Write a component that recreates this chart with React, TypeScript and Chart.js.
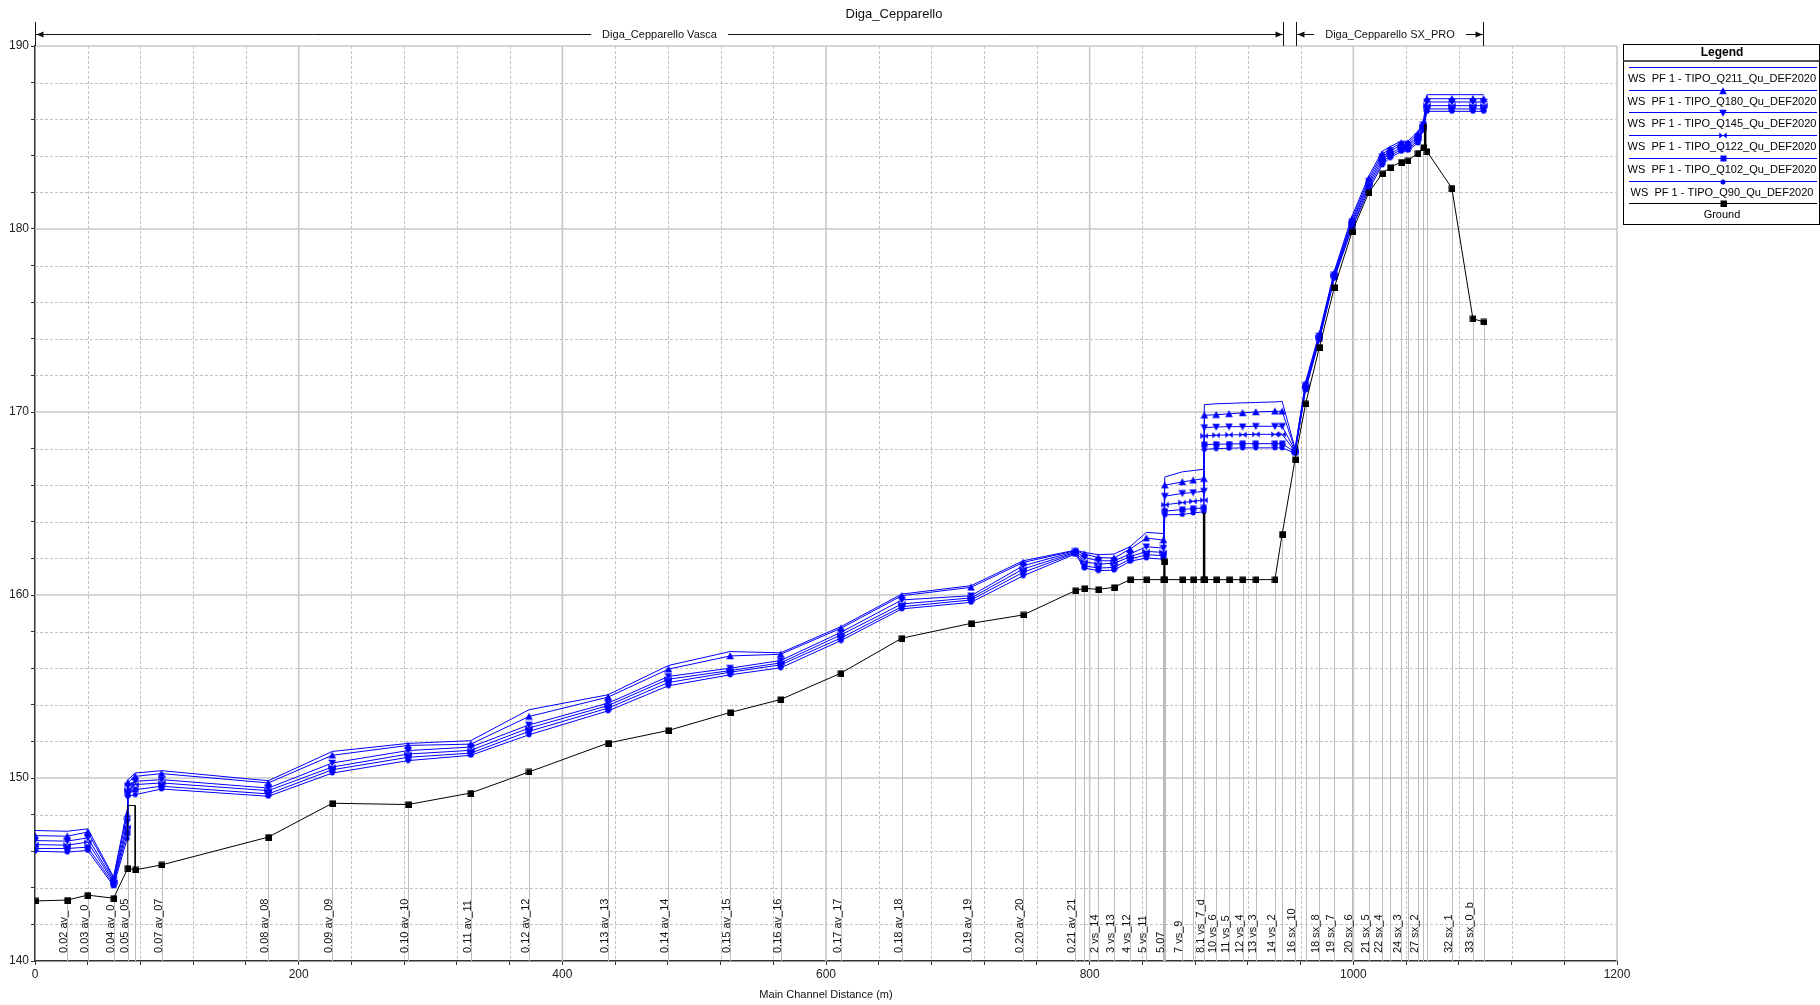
import React, { useEffect, useRef } from 'react';
import { Chart, registerables } from 'chart.js';

Chart.register(...registerables);

// ---- data (main channel distance in m, elevations in m) ----
const stations = [
  0, 24.5, 40, 59.6, 70.0, 70.4, 76, 96, 177, 225.5, 283, 330.5, 374.7, 434.7, 480.5, 527.3,
  565.6, 611.3, 657.5, 710, 749.6, 789.2, 796, 806.6, 818.5, 830.6, 843, 856.0, 856.4, 857.0,
  870.3, 878.5, 886.6, 887.0, 896, 905.7, 916, 926, 940.5, 946, 955.8, 963.8, 974.3, 985.6,
  999, 1011.8, 1021.9, 1028, 1036.3, 1041.4, 1049, 1053.2, 1055.8, 1074.7, 1090.7, 1098.8,
];

const stationLabels = [
  '', '0.02 av_', '0.03 av_0', '0.04 av_0', '', '0.05 av_05', '', '0.07 av_07', '0.08 av_08',
  '0.09 av_09', '0.10 av_10', '0.11 av_11', '0.12 av_12', '0.13 av_13', '0.14 av_14', '0.15 av_15',
  '0.16 av_16', '0.17 av_17', '0.18 av_18', '0.19 av_19', '0.20 av_20', '0.21 av_21', '',
  '2 vs_14', '3 vs_13', '4 vs_12', '5 vs_11', '', '5.07', '', '7 vs_9', '', '8.1 vs_7_d', '',
  '10 vs_6', '11 vs_5', '12 vs_4', '13 vs_3', '14 vs_2', '', '16 sx_10', '', '18 sx_8', '19 sx_7',
  '20 sx_6', '21 sx_5', '22 sx_4', '', '24 sx_3', '', '27 sx_2', '', '', '32 sx_1', '33 sx_0_b', '',
];

const ground = [
  143.28, 143.33, 143.6, 143.43, null, 145.07, 144.98, 145.25, 146.77, 148.62, 148.55, 149.18,
  150.33, 151.91, 152.6, 153.58, 154.29, 155.73, 157.64, 158.45, 158.91, 160.24, 160.36, 160.31,
  160.42, 160.84, 160.84, 160.84, 161.82, 160.84, 160.84, 160.84, 160.84, 160.84, 160.84, 160.84,
  160.84, 160.84, 160.84, 163.33, 167.4, 170.45, 173.55, 176.81, 179.84, 182.0, 183.02, 183.37,
  183.66, 183.73, 184.15, 184.46, 184.24, 182.24, 175.1, 174.92,
];

const wsQ211 = [
  147.13, 147.09, 147.22, 144.6, 148.3, 149.9, 150.27, 150.4, 149.85, 151.45, 151.89, 152.04,
  153.73, 154.55, 156.15, 156.91, 156.84, 158.27, 160.05, 160.51, 161.87, 162.45, 162.33, 162.2,
  162.24, 162.64, 163.42, 163.36, null, 166.45, 166.73, 166.8, 166.87, 170.4, 170.45, 170.47,
  170.5, 170.52, 170.55, 170.58, 168.0, 171.65, 174.35, 177.7, 180.7, 182.9, 184.24, 184.5,
  184.8, 184.8, 185.33, 185.9, 187.34, 187.34, 187.34, 187.34,
];
const wsQ180 = [
  146.85, 146.82, 147.05, 144.5, 148.0, 149.75, 150.09, 150.24, 149.73, 151.24, 151.78, 151.85,
  153.36, 154.42, 155.95, 156.67, 156.76, 158.18, 159.96, 160.42, 161.78, 162.42, 162.24, 162.05,
  162.02, 162.51, 163.11, 163.0, null, 166.0, 166.18, 166.27, 166.36, 169.82, 169.85, 169.9,
  169.95, 170.0, 170.04, 170.04, 167.95, 171.55, 174.25, 177.6, 180.55, 182.75, 184.1, 184.38,
  184.7, 184.7, 185.2, 185.8, 187.12, 187.12, 187.12, 187.12,
];
const wsQ145 = [
  146.58, 146.55, 146.73, 144.4, 147.6, 149.55, 149.82, 149.91, 149.45, 150.82, 151.5, 151.69,
  152.9, 154.09, 155.55, 156.0, 156.42, 157.96, 159.73, 159.96, 161.6, 162.38, 162.05, 161.87,
  161.87, 162.24, 162.64, 162.56, null, 165.4, 165.55, 165.6, 165.67, 169.15, 169.18, 169.2,
  169.2, 169.22, 169.22, 169.22, 167.9, 171.45, 174.15, 177.5, 180.4, 182.6, 183.95, 184.25,
  184.6, 184.6, 185.05, 185.7, 186.94, 186.94, 186.94, 186.94,
];
const wsQ122 = [
  146.36, 146.33, 146.5, 144.3, 147.3, 149.35, 149.64, 149.73, 149.31, 150.6, 151.31, 151.51,
  152.73, 153.96, 155.4, 155.87, 156.29, 157.82, 159.51, 159.84, 161.42, 162.33, 161.82, 161.69,
  161.73, 162.09, 162.38, 162.33, null, 164.93, 165.05, 165.12, 165.18, 168.69, 168.73, 168.75,
  168.76, 168.78, 168.78, 168.78, 167.85, 171.38, 174.08, 177.45, 180.3, 182.45, 183.8, 184.12,
  184.45, 184.48, 184.95, 185.6, 186.74, 186.74, 186.74, 186.74,
];
const wsQ102 = [
  146.15, 146.15, 146.22, 144.2, 147.0, 149.15, 149.36, 149.55, 149.13, 150.45, 151.13, 151.36,
  152.55, 153.82, 155.22, 155.78, 156.18, 157.65, 159.36, 159.73, 161.24, 162.29, 161.6, 161.47,
  161.51, 161.96, 162.2, 162.15, null, 164.58, 164.67, 164.72, 164.76, 168.22, 168.24, 168.25,
  168.27, 168.27, 168.27, 168.27, 167.8, 171.3, 174.0, 177.38, 180.15, 182.3, 183.65, 184.0,
  184.35, 184.38, 184.82, 185.5, 186.56, 186.56, 186.56, 186.56,
];
const wsQ90 = [
  146.0, 145.95, 146.04, 144.1, 146.7, 149.0, 149.09, 149.4, 149.0, 150.27, 150.95, 151.24,
  152.36, 153.67, 155.04, 155.64, 156.02, 157.51, 159.24, 159.6, 161.05, 162.24, 161.47, 161.33,
  161.36, 161.84, 162.02, 161.96, null, 164.38, 164.4, 164.48, 164.55, 167.96, 168.0, 168.02,
  168.04, 168.04, 168.04, 168.04, 167.75, 171.2, 173.95, 177.3, 180.05, 182.15, 183.5, 183.9,
  184.24, 184.3, 184.7, 185.4, 186.43, 186.43, 186.43, 186.43,
];

const seriesNames = [
  'WS  PF 1 - TIPO_Q211_Qu_DEF2020',
  'WS  PF 1 - TIPO_Q180_Qu_DEF2020',
  'WS  PF 1 - TIPO_Q145_Qu_DEF2020',
  'WS  PF 1 - TIPO_Q122_Qu_DEF2020',
  'WS  PF 1 - TIPO_Q102_Qu_DEF2020',
  'WS  PF 1 - TIPO_Q90_Qu_DEF2020',
];
const groundName = 'Ground';

// inline structures (drawn as ground outlines)
const structureX = [[70.4, 70.4, 76, 76], [886.8, 886.8], [1054.5, 1054.5]];
const structureY = [[145.07, 148.5, 148.5, 144.98], [160.84, 164.5], [184.35, 185.75]];

const reachNames = ['Diga_Cepparello Vasca', 'Diga_Cepparello SX_PRO'];
const reachStart = [0, 956.6];
const reachEnd = [946.8, 1098.6];

const chartTitle = 'Diga_Cepparello';
const xTitle = 'Main Channel Distance (m)';
const legendTitle = 'Legend';

const FONT = '"Liberation Sans", Arial, sans-serif';
const BLUE = '#0000ff';

function makeMarkers() {
  const mk = (w: number, h: number, draw: (c: CanvasRenderingContext2D) => void) => {
    const c = document.createElement('canvas');
    c.width = w;
    c.height = h;
    const g = c.getContext('2d')!;
    draw(g);
    return c;
  };
  const triUp = mk(8, 8, (g) => {
    g.fillStyle = BLUE;
    g.beginPath();
    g.moveTo(4, 0.3);
    g.lineTo(7.8, 7.2);
    g.lineTo(0.2, 7.2);
    g.closePath();
    g.fill();
  });
  const triDown = mk(8, 8, (g) => {
    g.fillStyle = BLUE;
    g.beginPath();
    g.moveTo(0.2, 0.8);
    g.lineTo(7.8, 0.8);
    g.lineTo(4, 7.7);
    g.closePath();
    g.fill();
  });
  const bowtie = mk(8, 7, (g) => {
    g.fillStyle = BLUE;
    g.beginPath();
    g.moveTo(0.3, 0.5);
    g.lineTo(7.7, 6.5);
    g.lineTo(7.7, 0.5);
    g.lineTo(0.3, 6.5);
    g.closePath();
    g.fill();
  });
  const square = mk(7, 7, (g) => {
    g.fillStyle = BLUE;
    g.fillRect(0.5, 0.5, 6, 6);
  });
  const dot = mk(6, 6, (g) => {
    g.fillStyle = BLUE;
    g.beginPath();
    g.arc(3, 3, 2.5, 0, Math.PI * 2);
    g.fill();
  });
  const groundSq = mk(7, 7, (g) => {
    g.fillStyle = '#000';
    g.fillRect(0.5, 0.5, 6.5, 6.5);
  });
  return { triUp, triDown, bowtie, square, dot, groundSq };
}

export default function App() {
  const ref = useRef<HTMLCanvasElement | null>(null);

  useEffect(() => {
    if (!ref.current) return;
    const markers = makeMarkers();
    const wsSeries = [wsQ211, wsQ180, wsQ145, wsQ122, wsQ102, wsQ90];
    const wsMarker: (HTMLCanvasElement | null)[] = [
      null, markers.triUp, markers.triDown, markers.bowtie, markers.square, markers.dot,
    ];
    const pts = (ys: (number | null)[]) => stations.map((x, i) => ({ x, y: ys[i] }));

    const line = (ctx: CanvasRenderingContext2D, x0: number, y0: number, x1: number, y1: number) => {
      ctx.beginPath();
      ctx.moveTo(x0, y0);
      ctx.lineTo(x1, y1);
      ctx.stroke();
    };

    const hecPlugin = {
      id: 'hec',
      beforeDatasetsDraw(chart: any) {
        const { ctx, chartArea: a, scales } = chart;
        const xs = scales.x;
        const ys = scales.y;
        ctx.save();
        // minor grid
        ctx.lineWidth = 1;
        ctx.strokeStyle = '#c2c2c2';
        ctx.setLineDash([3, 2]);
        for (let v = 40; v < 1200; v += 40) {
          if (v % 200 === 0) continue;
          const px = Math.round(xs.getPixelForValue(v)) + 0.5;
          line(ctx, px, a.top, px, a.bottom);
        }
        for (let v = 142; v < 190; v += 2) {
          if (v % 10 === 0) continue;
          const py = Math.round(ys.getPixelForValue(v)) + 0.5;
          line(ctx, a.left, py, a.right, py);
        }
        ctx.setLineDash([]);
        // major grid
        ctx.strokeStyle = '#c8c8c8';
        ctx.lineWidth = 1.6;
        for (let v = 200; v <= 1200; v += 200) {
          const px = xs.getPixelForValue(v);
          line(ctx, px, a.top, px, a.bottom);
        }
        for (let v = 150; v <= 190; v += 10) {
          const py = ys.getPixelForValue(v);
          line(ctx, a.left, py, a.right, py);
        }
        // station lines (axis to ground)
        ctx.strokeStyle = '#bcbcbc';
        ctx.lineWidth = 1;
        stations.forEach((m, i) => {
          const g = ground[i];
          if (g == null || m === 0) return;
          const px = Math.round(xs.getPixelForValue(m)) + 0.5;
          line(ctx, px, ys.getPixelForValue(140), px, ys.getPixelForValue(g));
        });
        ctx.restore();
      },
      afterDraw(chart: any) {
        const { ctx, chartArea: a, scales } = chart;
        const xs = scales.x;
        ctx.save();
        // station labels
        ctx.fillStyle = '#111';
        ctx.font = `11px ${FONT}`;
        ctx.textAlign = 'left';
        ctx.textBaseline = 'alphabetic';
        stations.forEach((m, i) => {
          const lab = stationLabels[i];
          if (!lab) return;
          const px = Math.round(xs.getPixelForValue(m)) - 0.5;
          ctx.save();
          ctx.translate(px, a.bottom - 8);
          ctx.rotate(-Math.PI / 2);
          ctx.fillText(lab, 0, 0);
          ctx.restore();
        });

        // title
        ctx.fillStyle = '#111';
        ctx.font = `13px ${FONT}`;
        ctx.textAlign = 'center';
        ctx.textBaseline = 'middle';
        ctx.fillText(chartTitle, 894, 14);

        // x axis title
        ctx.font = `11px ${FONT}`;
        ctx.fillText(xTitle, (a.left + a.right) / 2, 995);

        // reach arrows
        const ry = 34.5;
        ctx.strokeStyle = '#111';
        ctx.fillStyle = '#111';
        ctx.lineWidth = 1;
        const head = (x: number, dir: number) => {
          ctx.beginPath();
          ctx.moveTo(x, ry);
          ctx.lineTo(x - dir * 7, ry - 3);
          ctx.lineTo(x - dir * 7, ry + 3);
          ctx.closePath();
          ctx.fill();
        };
        reachNames.forEach((name, i) => {
          const x0 = Math.round(xs.getPixelForValue(reachStart[i])) + 0.5;
          const x1 = Math.round(xs.getPixelForValue(reachEnd[i])) + 0.5;
          ctx.font = `11px ${FONT}`;
          const w = ctx.measureText(name).width;
          const cx = (x0 + x1) / 2;
          const gap = 11;
          line(ctx, x0, ry, cx - w / 2 - gap, ry);
          line(ctx, cx + w / 2 + gap, ry, x1, ry);
          head(x0 + 1, -1);
          head(x1 - 1, 1);
          line(ctx, x0, 22, x0, a.top);
          line(ctx, x1, 22, x1, a.top);
          ctx.fillText(name, cx, ry);
        });

        // legend
        const lx0 = 1623.5;
        const lx1 = 1819.5;
        const ly0 = 44.5;
        const ly1 = 224.5;
        ctx.fillStyle = '#fff';
        ctx.fillRect(lx0, ly0, lx1 - lx0, ly1 - ly0);
        ctx.strokeStyle = '#000';
        ctx.lineWidth = 1;
        ctx.strokeRect(lx0, ly0, lx1 - lx0, ly1 - ly0);
        ctx.fillStyle = '#000';
        ctx.font = `bold 12px ${FONT}`;
        ctx.fillText(legendTitle, 1722, 52.5);
        ctx.strokeStyle = '#555';
        ctx.lineWidth = 2;
        line(ctx, lx0, 61, lx1, 61);
        const entries = [
          ...seriesNames.map((n, k) => ({ n, c: BLUE, m: wsMarker[k] })),
          { n: groundName, c: '#000', m: markers.groundSq },
        ];
        ctx.font = `11px ${FONT}`;
        entries.forEach((e, i) => {
          const sy = Math.round(67 + i * 22.7) + 0.5;
          ctx.strokeStyle = e.c;
          ctx.lineWidth = 1;
          line(ctx, 1629, sy, 1817, sy);
          if (e.m) ctx.drawImage(e.m, Math.round(1723 - e.m.width / 2), Math.round(sy - e.m.height / 2));
          ctx.fillStyle = '#000';
          ctx.fillText(e.n, 1722, sy + 11.5);
        });
        ctx.restore();
      },
    };

    const datasets: any[] = [
      {
        label: groundName,
        data: pts(ground),
        borderColor: '#000',
        backgroundColor: '#000',
        borderWidth: 1,
        pointStyle: markers.groundSq,
        pointRadius: 3,
        showLine: true,
        spanGaps: true,
      },
      ...structureX.map((sx, i) => ({
        label: 'structure ' + i,
        data: sx.map((x, j) => ({ x, y: structureY[i][j] })),
        borderColor: '#000',
        borderWidth: i === 0 ? 1 : 2.5,
        pointRadius: 0,
        showLine: true,
      })),
      ...wsSeries.map((s, k) => ({
        label: seriesNames[k],
        data: pts(s),
        borderColor: BLUE,
        backgroundColor: BLUE,
        borderWidth: 1,
        pointStyle: wsMarker[k] ?? 'circle',
        pointRadius: wsMarker[k] ? 3 : 0,
        showLine: true,
        spanGaps: true,
      })),
    ];

    const chart = new Chart(ref.current, {
      type: 'scatter',
      data: { datasets },
      options: {
        animation: false,
        responsive: false,
        devicePixelRatio: 1,
        events: [],
        layout: { padding: { left: 0, right: 203, top: 46, bottom: 0 } },
        plugins: { legend: { display: false }, tooltip: { enabled: false }, title: { display: false } },
        scales: {
          x: {
            type: 'linear',
            min: 0,
            max: 1200,
            afterFit: (s: any) => {
              s.height = 44;
              s.paddingLeft = 0;
              s.paddingRight = 0;
            },
            ticks: {
              stepSize: 40,
              autoSkip: false,
              maxRotation: 0,
              padding: 2,
              color: '#222',
              font: { family: FONT, size: 12 },
              callback: (v: any) => (Number(v) % 200 === 0 ? String(v) : ''),
            },
            grid: { display: true, drawOnChartArea: false, drawTicks: true, tickLength: 4, color: '#333' },
            border: { display: true, color: '#333', width: 1.5 },
          },
          y: {
            type: 'linear',
            min: 140,
            max: 190,
            afterFit: (s: any) => {
              s.width = 35;
              s.paddingTop = 0;
              s.paddingBottom = 0;
            },
            ticks: {
              stepSize: 2,
              autoSkip: false,
              padding: 2,
              color: '#222',
              font: { family: FONT, size: 12 },
              callback: (v: any) => (Number(v) % 10 === 0 ? String(v) : ''),
            },
            grid: { display: true, drawOnChartArea: false, drawTicks: true, tickLength: 4, color: '#333' },
            border: { display: true, color: '#333', width: 1.5 },
          },
        },
      },
      plugins: [hecPlugin],
    } as any);

    return () => chart.destroy();
  }, []);

  return (
    <div style={{ position: 'absolute', left: 0, top: 0, width: 1820, height: 1005, background: '#fff' }}>
      <canvas ref={ref} width={1820} height={1005} style={{ display: 'block' }} />
    </div>
  );
}
